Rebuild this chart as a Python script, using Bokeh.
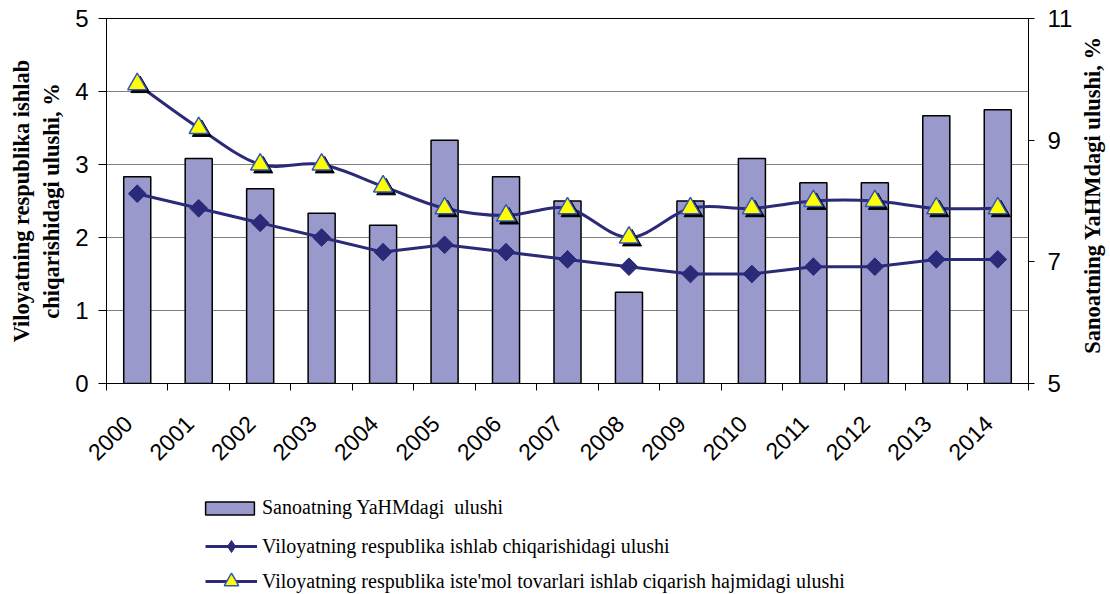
import math
from bokeh.plotting import figure
from bokeh.layouts import column, row
from bokeh.models import (Range1d, LinearAxis, FixedTicker, Legend, LegendItem, Label,
                          ColumnDataSource)
from bokeh.transform import dodge
from bokeh.embed import file_html
from bokeh.resources import INLINE

# ---------------- data ----------------
years = ["2000", "2001", "2002", "2003", "2004", "2005", "2006", "2007",
         "2008", "2009", "2010", "2011", "2012", "2013", "2014"]
# Sanoatning YaHMdagi ulushi (right axis, %)
industry_gdp_share = [8.4, 8.7, 8.2, 7.8, 7.6, 9.0, 8.4, 8.0, 6.5, 8.0, 8.7, 8.3, 8.3, 9.4, 9.5]
# Viloyatning respublika ishlab chiqarishidagi ulushi (left axis, %)
production_share = [2.6, 2.4, 2.2, 2.0, 1.8, 1.9, 1.8, 1.7, 1.6, 1.5, 1.5, 1.6, 1.6, 1.7, 1.7]
# Viloyatning respublika iste'mol tovarlari ishlab ciqarish hajmidagi ulushi (left axis, %)
consumer_goods_share = [4.1, 3.5, 3.0, 3.0, 2.7, 2.4, 2.3, 2.4, 2.0, 2.4, 2.4, 2.5, 2.5, 2.4, 2.4]
left_ticks = [0, 1, 2, 3, 4, 5]
right_ticks = [5, 7, 9, 11]

label_bars = "Sanoatning YaHMdagi  ulushi"
label_prod = "Viloyatning respublika ishlab chiqarishidagi ulushi"
label_cons = "Viloyatning respublika iste'mol tovarlari ishlab ciqarish hajmidagi ulushi"
left_title = "Viloyatning respublika ishlab\nchiqarishidagi ulushi, %"
right_title = "Sanoatning YaHMdagi  ulushi, %"

NAVY = "#2A2A78"
BAR = "#9999CC"
YELLOW = "#FFFF00"
TRI_EDGE = "#3355BB"

idx = list(range(len(years)))
src = ColumnDataSource(dict(x=idx, gdp=industry_gdp_share, prod=production_share,
                            cons=consumer_goods_share))

p = figure(width=1080, height=470, x_range=Range1d(-0.5, len(years) - 0.5),
           y_range=Range1d(0, 5), output_backend="svg", toolbar_location=None,
           min_border_left=106, min_border_right=52, min_border_top=18,
           min_border_bottom=85, background_fill_color="white",
           border_fill_color="white")
p.extra_y_ranges = {"right": Range1d(5, 11)}
p.outline_line_color = "black"
p.outline_line_width = 1

# grid
p.xgrid.visible = False
p.ygrid.ticker = FixedTicker(ticks=left_ticks[1:-1])
p.ygrid.grid_line_color = "#808080"
p.ygrid.grid_line_width = 1

# left axis
ly = p.left[0]
ly.ticker = FixedTicker(ticks=left_ticks)
ly.axis_line_color = "black"
ly.major_tick_line_color = "black"
ly.major_tick_out = 8
ly.major_tick_in = 0
ly.minor_tick_line_color = None
ly.major_label_standoff = 10
ly.major_label_text_font = "Liberation Sans"
ly.major_label_text_font_size = "24px"
ly.major_label_text_color = "black"
ly.axis_label = left_title
ly.axis_label_standoff = 8
ly.axis_label_text_font = "Liberation Serif"
ly.axis_label_text_font_style = "bold"
ly.axis_label_text_font_size = "22.5px"
ly.axis_label_text_color = "black"

# bottom axis: year labels (slightly left of the bar centres, as in the original),
# tick marks on the category boundaries
label_pos = [i - 0.15 for i in idx]
bx = p.below[0]
bx.ticker = FixedTicker(ticks=label_pos, minor_ticks=[i - 0.5 for i in range(len(years) + 1)])
bx.major_label_overrides = {t: y for t, y in zip(label_pos, years)}
bx.major_tick_line_color = None
bx.major_tick_out = 0
bx.major_tick_in = 0
bx.minor_tick_line_color = "black"
bx.minor_tick_out = 7
bx.minor_tick_in = 0
bx.axis_line_color = "black"
bx.major_label_orientation = math.pi / 4
bx.major_label_standoff = 29
bx.major_label_text_font = "Liberation Sans"
bx.major_label_text_font_size = "23px"
bx.major_label_text_color = "black"

# right axis
ry = LinearAxis(y_range_name="right", ticker=FixedTicker(ticks=right_ticks))
ry.axis_line_color = "black"
ry.major_tick_line_color = "black"
ry.major_tick_out = 6
ry.major_tick_in = 0
ry.minor_tick_line_color = None
ry.major_label_standoff = 13
ry.major_label_text_font = "Liberation Sans"
ry.major_label_text_font_size = "24px"
ry.major_label_text_color = "black"
p.add_layout(ry, "right")

# bars (right axis)
p.vbar(x="x", top="gdp", bottom=5, width=0.44, source=src, y_range_name="right",
       fill_color=BAR, line_color="black", line_width=1.5)

# production share: straight line with diamonds
p.line(x="x", y="prod", source=src, line_color=NAVY, line_width=3)
p.scatter(x="x", y="prod", source=src, marker="square", angle=math.pi / 4, size=12.5,
          fill_color=NAVY, line_color=NAVY)

# consumer goods share: smoothed line (cubic Bezier through the read points)
n = len(idx)
bz = dict(x0=[], y0=[], x1=[], y1=[], cx0=[], cy0=[], cx1=[], cy1=[])
for i in range(n - 1):
    a = max(i - 1, 0)
    b = min(i + 2, n - 1)
    bz["x0"].append(idx[i]); bz["y0"].append(consumer_goods_share[i])
    bz["x1"].append(idx[i + 1]); bz["y1"].append(consumer_goods_share[i + 1])
    bz["cx0"].append(idx[i] + (idx[i + 1] - idx[a]) / 6)
    bz["cy0"].append(consumer_goods_share[i] + (consumer_goods_share[i + 1] - consumer_goods_share[a]) / 6)
    bz["cx1"].append(idx[i + 1] - (idx[b] - idx[i]) / 6)
    bz["cy1"].append(consumer_goods_share[i + 1] - (consumer_goods_share[b] - consumer_goods_share[i]) / 6)
p.bezier(x0="x0", y0="y0", x1="x1", y1="y1", cx0="cx0", cy0="cy0", cx1="cx1", cy1="cy1",
         source=ColumnDataSource(bz), line_color=NAVY, line_width=3)
# marker shadow
p.scatter(x=dodge("x", 0.05), y=dodge("cons", -0.04), source=src, marker="triangle",
          size=19, fill_color="black", line_color="black")
p.scatter(x="x", y="cons", source=src, marker="triangle", size=19,
          fill_color=YELLOW, line_color=TRI_EDGE, line_width=1.5)

# ---------------- right title strip ----------------
r = figure(width=30, height=470, x_range=Range1d(0, 30), y_range=Range1d(0, 5),
           output_backend="svg", toolbar_location=None, x_axis_location=None,
           y_axis_location=None, min_border_left=0, min_border_right=0,
           min_border_top=18, min_border_bottom=85, outline_line_color=None,
           background_fill_color="white", border_fill_color="white")
r.xgrid.visible = False
r.ygrid.visible = False
r.add_layout(Label(x=12, y=2.62, text=right_title, angle=math.pi / 2, text_align="center",
                   text_baseline="middle", text_font="Liberation Serif",
                   text_font_style="bold", text_font_size="22.5px", text_color="black"))

# ---------------- legend panel ----------------
q = figure(width=1110, height=124, x_range=Range1d(-0.5, len(years) - 0.5),
           y_range=Range1d(100, 101),
           output_backend="svg", toolbar_location=None, x_axis_location=None,
           y_axis_location=None, min_border_left=106, min_border_right=82,
           min_border_top=0, min_border_bottom=0, outline_line_color=None,
           background_fill_color="white", border_fill_color="white")
q.xgrid.visible = False
q.ygrid.visible = False

# legend sample renderers (hidden; they only supply the legend glyphs)
leg_bar = q.vbar(x="x", top="gdp", width=0.44, source=src, fill_color=BAR,
                 line_color="black", line_width=1.5, visible=False)
leg_prod_line = q.line(x="x", y="prod", source=src, line_color=NAVY, line_width=3,
                       visible=False)
leg_prod_mark = q.scatter(x="x", y="prod", source=src, marker="diamond",
                          fill_color=NAVY, line_color=NAVY, visible=False)
leg_cons_line = q.line(x="x", y="cons", source=src, line_color=NAVY, line_width=3,
                       visible=False)
leg_cons_mark = q.scatter(x="x", y="cons", source=src, marker="triangle", fill_color=YELLOW,
                          line_color=TRI_EDGE, line_width=1.5, visible=False)

common = dict(orientation="vertical", padding=0, margin=0, spacing=0,
              label_text_font="Liberation Serif", label_text_font_size="20px",
              label_text_color="black", border_line_color=None,
              background_fill_alpha=0, click_policy="none")
lg1 = Legend(items=[LegendItem(label=label_bars, renderers=[leg_bar])],
             location=(93, 75), glyph_width=61, glyph_height=16, label_height=16,
             label_standoff=2, **common)
lg2 = Legend(items=[LegendItem(label=label_prod, renderers=[leg_prod_line, leg_prod_mark])],
             location=(99, 33), glyph_width=52, glyph_height=30, label_height=30,
             label_standoff=5, **common)
lg3 = Legend(items=[LegendItem(label=label_cons, renderers=[leg_cons_line, leg_cons_mark])],
             location=(99, -5), glyph_width=52, glyph_height=36, label_height=36,
             label_standoff=5, **common)
for lg in (lg1, lg2, lg3):
    q.add_layout(lg)

layout = column(row(p, r, spacing=0), q, spacing=0)
open("out.html", "w").write(file_html(layout, INLINE))
